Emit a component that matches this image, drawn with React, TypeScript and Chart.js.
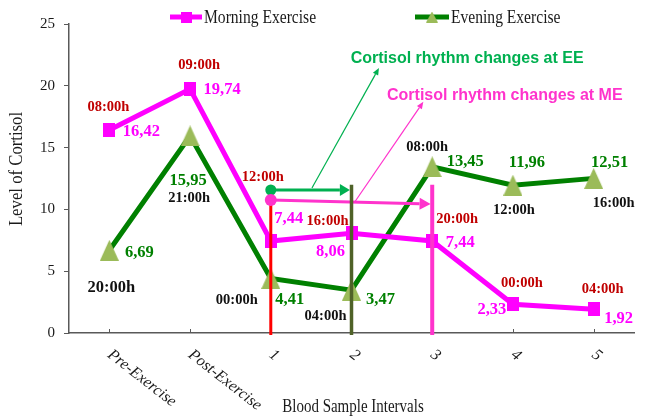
import React, { useEffect, useRef } from 'react';
import { Chart, registerables } from 'chart.js';

Chart.register(...registerables);

// ---------- data ----------
const categories = ['Pre-Exercise', 'Post-Exercise', '1', '2', '3', '4', '5'];
const seriesNames = ['Morning Exercise', 'Evening Exercise'];
const morningValues = [16.42, 19.74, 7.44, 8.06, 7.44, 2.33, 1.92];
const eveningValues = [6.69, 15.95, 4.41, 3.47, 13.45, 11.96, 12.51];
const morningTimes = ['08:00h', '09:00h', '12:00h', '16:00h', '20:00h', '00:00h', '04:00h'];
const eveningTimes = ['20:00h', '21:00h', '00:00h', '04:00h', '08:00h', '12:00h', '16:00h'];
const yTicks = [0, 5, 10, 15, 20, 25];
const xTitle = 'Blood Sample Intervals';
const yTitle = 'Level of Cortisol';

// annotations (category index, cortisol level)
const markerLineIndex = [2, 3, 4];
const markerLineTop = [10.76, 12.0, 12.0];
const eeArrow = [[2, 11.57], [2.98, 11.57]];
const meArrow = [[2, 10.76], [3.98, 10.44]];
const calloutTexts = ['Cortisol rhythm changes at EE', 'Cortisol rhythm changes at ME'];
const eeCalloutLine = [[2.51, 11.73], [3.34, 21.44]];
const meCalloutLine = [[3.04, 10.6], [3.89, 18.7]];
const eeCalloutAnchor = [2.99, 21.84];
const meCalloutAnchor = [3.44, 18.85];

// ---------- styles ----------
const MAGENTA = '#FF00FF';
const GREEN = '#008000';
const OLIVE_TRI = '#9BBB59';
const DARK_RED = '#C00000';
const EE_GREEN = '#00B050';
const ME_PINK = '#FF33CC';
const AXIS = '#595959';
const TEXT = '#1a1a1a';
const SERIF = "'Liberation Serif', 'Times New Roman', serif";
const SANS = "'Liberation Sans', Arial, sans-serif";
const markerLineColors = ['#FF0000', '#4F6228', '#FF33CC'];
const markerLineWidths = [3, 3.5, 4];

// label offsets (px) relative to points
const morningValueOffsets = [[32, 2], [32, 1], [18, -22], [-21, 18], [28, 2], [-21, 6], [25, 9]];
const morningTimeOffsets = [[-1, -23], [9, -24], [-8, -64], [-24, -12], [25, -22], [9, -21], [9, -20]];
const eveningValueOffsets = [[30, 2], [-2, 45], [19, 21], [29, 10], [33, -5], [14, -22], [16, -16]];
const eveningTimeOffsets = [[2, 37], [-1, 62], [-34, 22], [-26, 26], [-5, -20], [1, 25], [20, 25]];
const eveningTimeSizes = [16.5, 14.5, 14.5, 14.5, 14.5, 14.5, 14.5];

const fmt = (v: number) => v.toFixed(2).replace('.', ',');

function makeSquare(w: number, h: number, color: string) {
  const c = document.createElement('canvas');
  c.width = w; c.height = h;
  const g = c.getContext('2d')!;
  g.fillStyle = color;
  g.fillRect(0, 0, w, h);
  return c;
}
function makeTriangle(w: number, h: number, color: string) {
  const c = document.createElement('canvas');
  c.width = w; c.height = h;
  const g = c.getContext('2d')!;
  g.fillStyle = color;
  g.beginPath();
  g.moveTo(w / 2, 0);
  g.lineTo(w, h);
  g.lineTo(0, h);
  g.closePath();
  g.fill();
  return c;
}

function drawArrow(ctx: CanvasRenderingContext2D, x1: number, y1: number, x2: number, y2: number,
  color: string, lw: number, hl: number, hw: number) {
  const a = Math.atan2(y2 - y1, x2 - x1);
  const bx = x2 - hl * Math.cos(a);
  const by = y2 - hl * Math.sin(a);
  ctx.strokeStyle = color;
  ctx.lineWidth = lw;
  ctx.beginPath();
  ctx.moveTo(x1, y1);
  ctx.lineTo(bx, by);
  ctx.stroke();
  ctx.fillStyle = color;
  ctx.beginPath();
  ctx.moveTo(x2, y2);
  ctx.lineTo(bx + (hw / 2) * Math.sin(a), by - (hw / 2) * Math.cos(a));
  ctx.lineTo(bx - (hw / 2) * Math.sin(a), by + (hw / 2) * Math.cos(a));
  ctx.closePath();
  ctx.fill();
}

function drawText(ctx: CanvasRenderingContext2D, text: string, x: number, y: number, font: string,
  color: string, align: CanvasTextAlign, baseline: CanvasTextBaseline, rot = 0, sx = 1) {
  ctx.save();
  ctx.translate(x, y);
  if (rot) ctx.rotate(rot);
  if (sx !== 1) ctx.scale(sx, 1);
  ctx.font = font;
  ctx.fillStyle = color;
  ctx.textAlign = align;
  ctx.textBaseline = baseline;
  ctx.fillText(text, 0, 0);
  ctx.restore();
}

export default function App() {
  const ref = useRef<HTMLCanvasElement>(null);

  useEffect(() => {
    document.body.style.margin = '0';
    const canvas = ref.current!;
    const squareImg = makeSquare(12, 14, MAGENTA);
    const triImg = makeTriangle(19, 21, OLIVE_TRI);
    const legendSquare = makeSquare(11, 11, MAGENTA);
    const legendTri = makeTriangle(12, 11, OLIVE_TRI);

    const decor = {
      id: 'decor',
      beforeDatasetsDraw(chart: any) {
        const { ctx, chartArea, scales } = chart;
        ctx.save();
        ctx.strokeStyle = AXIS;
        ctx.lineWidth = 1;
        categories.forEach((_, i) => {
          const px = Math.round(scales.x.getPixelForValue(i)) + 0.5;
          ctx.beginPath();
          ctx.moveTo(px, chartArea.bottom);
          ctx.lineTo(px, chartArea.bottom - 4);
          ctx.stroke();
        });
        ctx.restore();
      },
      afterDatasetsDraw(chart: any) {
        const { ctx, scales } = chart;
        const X = (v: number) => scales.x.getPixelForValue(v);
        const Y = (v: number) => scales.y.getPixelForValue(v);
        ctx.save();
        ctx.lineCap = 'butt';
        // thin callout lines
        drawArrow(ctx, X(eeCalloutLine[0][0]), Y(eeCalloutLine[0][1]), X(eeCalloutLine[1][0]), Y(eeCalloutLine[1][1]), EE_GREEN, 1.2, 7, 6);
        drawArrow(ctx, X(meCalloutLine[0][0]), Y(meCalloutLine[0][1]), X(meCalloutLine[1][0]), Y(meCalloutLine[1][1]), ME_PINK, 1.2, 7, 6);
        // thick arrows
        drawArrow(ctx, X(eeArrow[0][0]), Y(eeArrow[0][1]), X(eeArrow[1][0]), Y(eeArrow[1][1]), EE_GREEN, 3, 10, 12);
        drawArrow(ctx, X(meArrow[0][0]), Y(meArrow[0][1]), X(meArrow[1][0]), Y(meArrow[1][1]), ME_PINK, 3, 11, 12);
        // vertical marker lines
        markerLineIndex.forEach((idx, k) => {
          ctx.strokeStyle = markerLineColors[k];
          ctx.lineWidth = markerLineWidths[k];
          ctx.beginPath();
          ctx.moveTo(X(idx), Y(markerLineTop[k]));
          ctx.lineTo(X(idx), Y(0) + 2);
          ctx.stroke();
        });
        // dots at arrow starts
        ctx.fillStyle = EE_GREEN;
        ctx.beginPath();
        ctx.arc(X(eeArrow[0][0]), Y(eeArrow[0][1]), 5.5, 0, Math.PI * 2);
        ctx.fill();
        ctx.fillStyle = ME_PINK;
        ctx.beginPath();
        ctx.arc(X(meArrow[0][0]), Y(meArrow[0][1]), 6, 0, Math.PI * 2);
        ctx.fill();
        // callout texts
        drawText(ctx, calloutTexts[0], X(eeCalloutAnchor[0]), Y(eeCalloutAnchor[1]), `bold 16px ${SANS}`, EE_GREEN, 'left', 'alphabetic');
        drawText(ctx, calloutTexts[1], X(meCalloutAnchor[0]), Y(meCalloutAnchor[1]), `bold 16px ${SANS}`, ME_PINK, 'left', 'alphabetic');

        // data labels
        const mMeta = chart.getDatasetMeta(0);
        const eMeta = chart.getDatasetMeta(1);
        mMeta.data.forEach((pt: any, j: number) => {
          drawText(ctx, fmt(morningValues[j]), pt.x + morningValueOffsets[j][0], pt.y + morningValueOffsets[j][1], `bold 16.5px ${SERIF}`, MAGENTA, 'center', 'middle');
          drawText(ctx, morningTimes[j], pt.x + morningTimeOffsets[j][0], pt.y + morningTimeOffsets[j][1], `bold 14.5px ${SERIF}`, DARK_RED, 'center', 'middle');
        });
        eMeta.data.forEach((pt: any, j: number) => {
          drawText(ctx, fmt(eveningValues[j]), pt.x + eveningValueOffsets[j][0], pt.y + eveningValueOffsets[j][1], `bold 16.5px ${SERIF}`, GREEN, 'center', 'middle');
          drawText(ctx, eveningTimes[j], pt.x + eveningTimeOffsets[j][0], pt.y + eveningTimeOffsets[j][1], `bold ${eveningTimeSizes[j]}px ${SERIF}`, '#111111', 'center', 'middle');
        });
        ctx.restore();
      },
      afterDraw(chart: any) {
        const { ctx, scales, chartArea } = chart;
        ctx.save();
        // x category labels, rotated
        categories.forEach((c, i) => {
          const px = scales.x.getPixelForValue(i);
          drawText(ctx, c, px, chartArea.bottom + 20, `italic 16px ${SERIF}`, TEXT, 'left', 'middle', (38 * Math.PI) / 180);
        });
        // axis titles
        drawText(ctx, xTitle, 353, 412, `18.5px ${SERIF}`, TEXT, 'center', 'alphabetic', 0, 0.81);
        drawText(ctx, yTitle, 17, 169, `19px ${SERIF}`, TEXT, 'center', 'middle', -Math.PI / 2, 0.88);

        // legend
        const items = [
          { x0: 170, x1: 202, color: MAGENTA, img: legendSquare, tx: 204, name: seriesNames[0] },
          { x0: 415, x1: 449, color: GREEN, img: legendTri, tx: 451, name: seriesNames[1] },
        ];
        items.forEach((it) => {
          ctx.strokeStyle = it.color;
          ctx.lineWidth = 5;
          ctx.beginPath();
          ctx.moveTo(it.x0, 17);
          ctx.lineTo(it.x1, 17);
          ctx.stroke();
          const cx = (it.x0 + it.x1) / 2;
          ctx.drawImage(it.img, cx - it.img.width / 2, 17 - it.img.height / 2);
          drawText(ctx, it.name, it.tx, 22.5, `19px ${SERIF}`, TEXT, 'left', 'alphabetic', 0, 0.82);
        });
        ctx.restore();
      },
    };

    const chart = new Chart(canvas, {
      type: 'line',
      data: {
        labels: categories,
        datasets: [
          {
            label: seriesNames[0],
            data: morningValues,
            borderColor: MAGENTA,
            backgroundColor: MAGENTA,
            borderWidth: 5,
            pointStyle: squareImg as any,
            pointRadius: 7,
            pointHoverRadius: 7,
            tension: 0,
            fill: false,
          },
          {
            label: seriesNames[1],
            data: eveningValues,
            borderColor: GREEN,
            backgroundColor: OLIVE_TRI,
            borderWidth: 5,
            pointStyle: triImg as any,
            pointRadius: 10,
            pointHoverRadius: 10,
            tension: 0,
            fill: false,
          },
        ],
      },
      options: {
        responsive: false,
        maintainAspectRatio: false,
        animation: false,
        layout: { padding: { top: 24, left: 0, right: 0, bottom: 0 } },
        plugins: {
          legend: { display: false },
          tooltip: { enabled: false },
          title: { display: false },
        },
        scales: {
          x: {
            type: 'category',
            offset: true,
            grid: { display: false },
            border: { display: true, color: AXIS, width: 1.5 },
            ticks: { display: false },
            afterFit: (s: any) => { s.height = 86; },
          },
          y: {
            min: 0,
            max: 25,
            grid: { drawOnChartArea: false, drawTicks: true, tickLength: 5, color: AXIS, lineWidth: 1 },
            border: { display: true, color: AXIS, width: 1.5 },
            ticks: {
              stepSize: 5,
              padding: 9,
              color: TEXT,
              font: { family: SERIF, size: 15 },
              callback: (v: any) => (yTicks.includes(Number(v)) ? String(v) : ''),
            },
            afterFit: (s: any) => { s.width = 69; },
          },
        },
      },
      plugins: [decor],
    } as any);

    return () => chart.destroy();
  }, []);

  return (
    <div style={{ width: 649, height: 419 }}>
      <canvas ref={ref} width={649} height={419} style={{ display: 'block' }} />
    </div>
  );
}
